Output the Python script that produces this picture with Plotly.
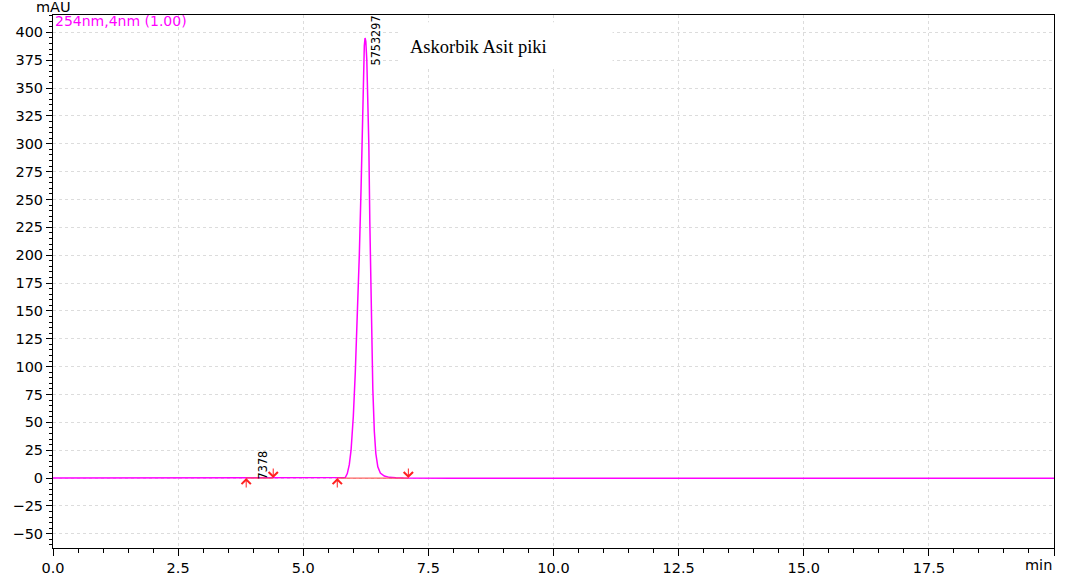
import plotly.graph_objects as go

# ---- data ----
time_min = [0.0, 2.0, 3.5, 3.9, 4.10, 4.20, 4.30, 4.5, 5.5, 5.70, 5.84, 5.88, 5.92, 5.955,
            6.00, 6.04, 6.075, 6.12, 6.155, 6.18, 6.20, 6.22, 6.235, 6.25, 6.27, 6.29,
            6.31, 6.33, 6.36, 6.39, 6.42, 6.45, 6.49, 6.54, 6.62, 6.72, 6.85, 7.0,
            8.0, 10.0, 12.5, 15.0, 17.5, 20.0]
signal_mau = [0.0, 0.0, 0.0, 0.1, 0.4, 0.6, 0.4, 0.1, 0.0, 0.0, 0.5, 4.0, 12.0, 25.0,
              55.0, 95.0, 135.0, 200.0, 260.0, 320.0, 365.0, 388.0, 395.0, 392.0, 375.0, 345.0,
              300.0, 230.0, 140.0, 80.0, 42.0, 22.0, 10.0, 4.5, 1.8, 0.6, 0.2, 0.0,
              -0.2, -0.2, -0.3, -0.3, -0.3, -0.3]

baseline_start = [3.86, 5.68]
baseline_end = [4.40, 7.10]

peak_times = [4.18, 6.44]
peak_label_y = [11.5, 393.0]
peak_areas = ["7378", "5753297"]

x_ticks = [0.0, 2.5, 5.0, 7.5, 10.0, 12.5, 15.0, 17.5, 20.0]
x_tick_text = ["0.0", "2.5", "5.0", "7.5", "10.0", "12.5", "15.0", "17.5", ""]
y_ticks = [-50, -25, 0, 25, 50, 75, 100, 125, 150, 175, 200, 225, 250, 275, 300, 325, 350, 375, 400]

MAGENTA = "#ff00ff"
RED = "#ff2020"
tick_font = dict(family="DejaVu Sans, Liberation Sans, Arial", size=14.5, color="black")
narrow_font = dict(family="Liberation Sans Narrow, DejaVu Sans Condensed, Arial Narrow, Liberation Sans",
                   size=12.5, color="black")

fig = go.Figure()

fig.add_trace(go.Scatter(x=time_min, y=signal_mau, mode="lines",
                         line=dict(color=MAGENTA, width=1.5), hoverinfo="skip"))

for xs, xe in zip(baseline_start, baseline_end):
    fig.add_trace(go.Scatter(x=[xs, xe], y=[0, 0], mode="lines",
                             line=dict(color="rgba(255,70,70,0.85)", width=1.2), hoverinfo="skip"))

annotations = []
# integration start (up) and end (down) arrows
for xs in baseline_start:
    annotations.append(dict(x=xs, y=0, xref="x", yref="y", text="", showarrow=True,
                            ax=0, ay=11, arrowhead=4, arrowsize=1.8, arrowwidth=1,
                            arrowcolor=RED, standoff=0))
for xe in baseline_end:
    annotations.append(dict(x=xe, y=0, xref="x", yref="y", text="", showarrow=True,
                            ax=0, ay=-11, arrowhead=4, arrowsize=1.8, arrowwidth=1,
                            arrowcolor=RED, standoff=0))

# peak area labels
for px, py, lab in zip(peak_times, peak_label_y, peak_areas):
    annotations.append(dict(x=px, y=py, xref="x", yref="y", text=lab, showarrow=False,
                            textangle=-90, font=narrow_font, xanchor="center", yanchor="middle"))

# text box
annotations.append(dict(x=7.1, y=387, xref="x", yref="y", text="Askorbik Asit piki",
                        showarrow=False, xanchor="left", yanchor="middle",
                        font=dict(family="Liberation Serif, Times New Roman, serif", size=18.5,
                                  color="black")))

# axis unit labels and channel label
annotations.append(dict(x=0.02, y=1.0146, xref="paper", yref="paper", text="mAU",
                        showarrow=False, xanchor="right", yanchor="middle", font=tick_font))
annotations.append(dict(x=1.0, y=-0.031, xref="paper", yref="paper", text="min",
                        showarrow=False, xanchor="right", yanchor="middle", font=tick_font))
annotations.append(dict(x=0.0, y=0.9885, xref="paper", yref="paper", text="254nm,4nm (1.00)",
                        showarrow=False, xanchor="left", yanchor="middle",
                        font=dict(family="DejaVu Sans, Liberation Sans, Arial", size=14,
                                  color=MAGENTA)))

fig.update_layout(
    width=1066, height=579,
    margin=dict(l=53, r=12, t=15, b=31, autoexpand=False),
    paper_bgcolor="white", plot_bgcolor="white",
    showlegend=False,
    annotations=annotations,
    shapes=[dict(type="rect", xref="x", yref="y", x0=6.94, x1=11.18, y0=368, y1=409,
                 fillcolor="white", line=dict(width=0), layer="above")],
)

fig.update_xaxes(range=[0, 20], tickmode="array", tickvals=x_ticks, ticktext=x_tick_text,
                 ticks="outside", ticklen=7, tickcolor="black", tickwidth=1,
                 showline=True, linecolor="black", linewidth=1, mirror=True,
                 showgrid=True, gridcolor="#dcdcdc", griddash="dot", gridwidth=1,
                 zeroline=False, tickfont=tick_font, automargin=False,
                 minor=dict(tickmode="linear", tick0=0, dtick=0.5, ticks="outside", ticklen=4,
                            tickcolor="black", showgrid=False))
fig.update_yaxes(range=[-62.8, 415.6], tickmode="array", tickvals=y_ticks,
                 ticks="outside", ticklen=6, tickcolor="black", tickwidth=1,
                 showline=True, linecolor="black", linewidth=1, mirror=True,
                 showgrid=True, gridcolor="#dcdcdc", griddash="dot", gridwidth=1,
                 zeroline=False, tickfont=tick_font, automargin=False,
                 minor=dict(tickmode="linear", tick0=0, dtick=5, ticks="outside", ticklen=3,
                            tickcolor="black", showgrid=False))

fig.write_html("out.html")
